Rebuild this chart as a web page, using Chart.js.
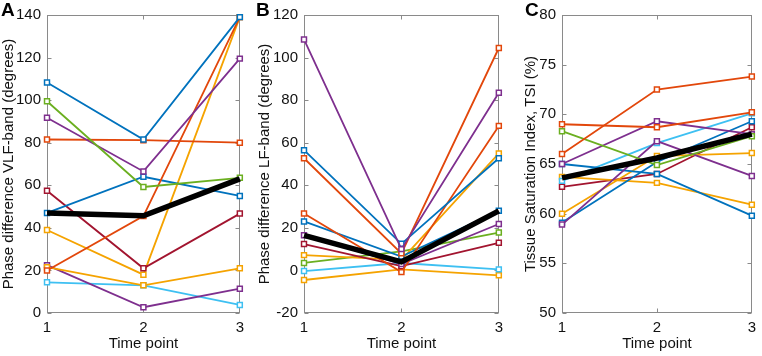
<!DOCTYPE html>
<html>
<head>
<meta charset="utf-8">
<script src="https://cdn.jsdelivr.net/npm/chart.js@4/dist/chart.umd.min.js"></script>
<style>
body { margin: 0; width: 762px; height: 356px; position: relative; background: #fff; overflow: hidden; font-family: "Liberation Sans", Arial, sans-serif; }
canvas { position: absolute; top: 0; }
.tag { position: absolute; top: 0px; font-weight: bold; font-size: 19px; line-height: 19px; color: #000; }
</style>
</head>
<body>
<canvas id="chartA" width="250" height="356" style="left:0px"></canvas>
<canvas id="chartB" width="253" height="356" style="left:256px"></canvas>
<canvas id="chartC" width="240" height="356" style="left:522px"></canvas>
<div class="tag" style="left:1px">A</div>
<div class="tag" style="left:256px">B</div>
<div class="tag" style="left:525px">C</div>
<script>
var timePoints = ['1', '2', '3'];

// panel A: VLF-band phase difference, one row per subject
var vlfSubjects = [
    [108.3, 81.5, 139.0],
    [99.5, 59.2, 63.5],
    [91.7, 66.5, 119.5],
    [81.5, 81.2, 80.0],
    [20.0, 45.5, 139.0],
    [47.0, 64.0, 55.0],
    [57.4, 21.0, 46.7],
    [39.0, 18.0, 139.0],
    [21.5, 13.0, 21.0],
    [22.5, 2.7, 11.4],
    [14.4, 13.0, 3.8]
];
var vlfMean = [47.0, 45.7, 63.0];

// panel B: LF-band phase difference
var lfSubjects = [
    [108.5, 10.0, 83.5],
    [56.5, 12.5, 52.7],
    [52.7, 8.0, 104.5],
    [26.7, -0.8, 67.9],
    [23.0, 6.5, 28.0],
    [16.5, 3.0, 21.8],
    [12.4, 2.0, 13.0],
    [7.2, 5.0, 55.0],
    [3.5, 9.0, 17.8],
    [-0.3, 3.5, 0.5],
    [-4.5, 0.5, -2.3]
];
var lfMean = [16.5, 4.0, 28.0];

// panel C: tissue saturation index
var tsiSubjects = [
    [66.0, 72.5, 73.8],
    [69.0, 68.7, 70.2],
    [68.3, 64.9, 67.8],
    [65.0, 69.3, 68.0],
    [58.9, 67.3, 63.8],
    [65.0, 64.0, 59.8],
    [59.1, 65.2, 69.3],
    [63.3, 67.1, 70.1],
    [63.7, 63.1, 60.9],
    [60.0, 65.8, 66.1],
    [62.7, 64.0, 68.7]
];
var tsiMean = [63.6, 65.6, 68.0];

var blue = '#0072BD', orange = '#E2470B', yellow = '#F5A300', purple = '#7E2F8E',
    green = '#6BAF20', cyan = '#3EC0F2', darkred = '#A2142F';

var colorsA = [blue, green, purple, orange, orange, blue, darkred, yellow, yellow, purple, cyan];
var colorsB = [purple, blue, orange, orange, blue, purple, darkred, yellow, green, cyan, yellow];
var colorsC = [orange, orange, green, purple, purple, blue, blue, cyan, yellow, yellow, darkred];

Chart.defaults.font.family = '"Liberation Sans", Arial, sans-serif';
Chart.defaults.color = '#111';

var axisGray = '#8a8a8a';

// MATLAB style box with inward ticks
var boxPlugin = {
    id: 'box',
    beforeDatasetsDraw: function(chart) {
        var a = chart.chartArea;
        var ctx = chart.ctx;
        var l = Math.round(a.left) + 0.5, r = Math.round(a.right) - 0.5;
        var t = Math.round(a.top) + 0.5, b = Math.round(a.bottom) - 0.5;
        ctx.save();
        ctx.strokeStyle = axisGray;
        ctx.lineWidth = 1;
        ctx.strokeRect(l, t, r - l, b - t);
        ctx.beginPath();
        chart.scales.y.ticks.forEach(function(tk) {
            var y = Math.round(chart.scales.y.getPixelForValue(tk.value)) + 0.5;
            ctx.moveTo(l, y); ctx.lineTo(l + 4, y);
            ctx.moveTo(r, y); ctx.lineTo(r - 4, y);
        });
        var x = Math.round(chart.scales.x.getPixelForValue(1)) + 0.5;
        ctx.moveTo(x, b); ctx.lineTo(x, b - 4);
        ctx.moveTo(x, t); ctx.lineTo(x, t + 4);
        ctx.stroke();
        ctx.restore();
    }
};

function chart_panel(id, subjects, mean, colors, yMin, yMax, step, yTitle, yWidth) {

    var datasets = [{
        data: mean,
        borderColor: '#000',
        borderWidth: 5.5,
        pointRadius: 0,
        clip: false
    }];

    for (var i = 0; i < subjects.length; i++) {
        datasets.push({
            data: subjects[i],
            borderColor: colors[i],
            borderWidth: 1.8,
            pointStyle: 'rect',
            pointRadius: 3.5,
            pointBorderWidth: 1.5,
            pointBackgroundColor: '#fff',
            pointBorderColor: colors[i],
            clip: false
        });
    }

    var ctx = document.getElementById(id).getContext('2d');

    var chart = new Chart(ctx, {
        type: 'line',
        data: {
            labels: timePoints,
            datasets: datasets
        },
        options: {
            responsive: false,
            animation: false,
            layout: { padding: { top: 7, right: 5, left: 0, bottom: 0 } },
            plugins: { legend: { display: false }, tooltip: { enabled: false } },
            elements: { line: { tension: 0 } },
            scales: {
                x: {
                    offset: false,
                    grid: { display: false, drawTicks: false },
                    border: { display: false },
                    ticks: { font: { size: 15 }, padding: 6, maxRotation: 0 },
                    title: { display: true, text: 'Time point', font: { size: 15 }, padding: { top: 0, bottom: 3 } },
                    afterFit: function(s) { s.height = 43; }
                },
                y: {
                    min: yMin,
                    max: yMax,
                    grid: { display: false, drawTicks: false },
                    border: { display: false },
                    ticks: { stepSize: step, font: { size: 15 }, padding: 6 },
                    title: { display: true, text: yTitle, font: { size: 15 }, padding: { top: 0, bottom: 0 } },
                    afterFit: function(s) { s.width = yWidth; }
                }
            }
        },
        plugins: [boxPlugin]
    });
    return chart;
}

chart_panel('chartA', vlfSubjects, vlfMean, colorsA, 0, 140, 20, 'Phase difference VLF-band (degrees)', 47);
chart_panel('chartB', lfSubjects, lfMean, colorsB, -20, 120, 20, 'Phase difference LF-band (degrees)', 48);
chart_panel('chartC', tsiSubjects, tsiMean, colorsC, 50, 80, 5, 'Tissue Saturation Index, TSI (%)', 40);
</script>
</body>
</html>
